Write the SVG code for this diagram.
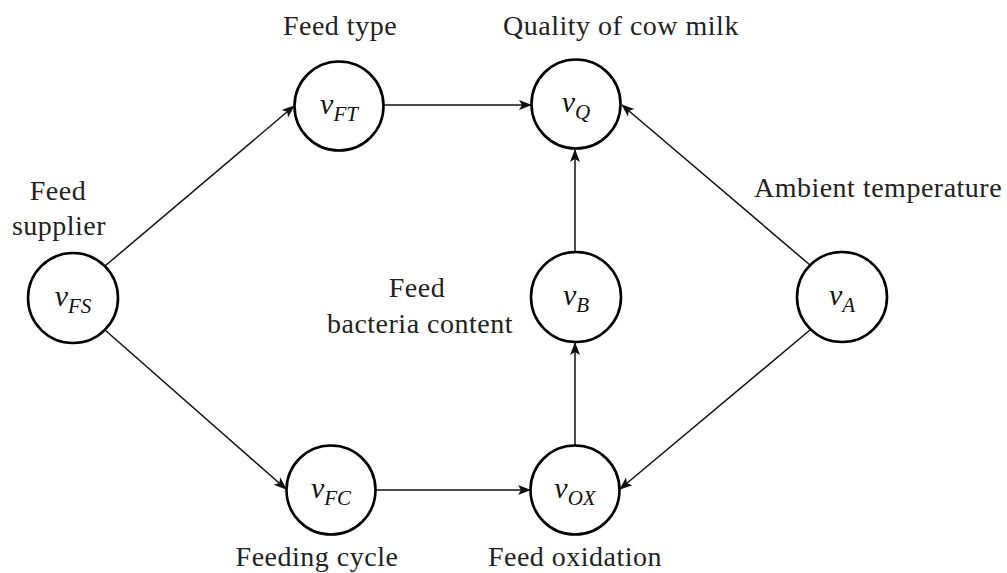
<svg xmlns="http://www.w3.org/2000/svg" width="1007" height="573" viewBox="0 0 1007 573">
<style>
.node circle{fill:#fff;stroke:#000;stroke-width:2.6}
.lbl{font-family:'Liberation Serif','Times New Roman',serif;font-size:28px;letter-spacing:0.5px;fill:#222}
.math{font-family:'Liberation Serif','Times New Roman',serif;font-style:italic;font-size:30px;fill:#111}
.sub{font-size:21px}
.edge{stroke:#111;stroke-width:1.5;fill:none;marker-end:url(#ah)}
</style>
<defs>
<marker id="ah" markerWidth="14" markerHeight="12" refX="12" refY="6" orient="auto" markerUnits="userSpaceOnUse">
<path d="M0,1 L13,6 L0,11 L3,6 Z" fill="#111"/>
</marker>
</defs>
<g id="connectors">
<line class="edge" x1="105" y1="266" x2="294" y2="106"/>
<line class="edge" x1="105" y1="330" x2="286" y2="489"/>
<line class="edge" x1="384" y1="105" x2="531" y2="105"/>
<line class="edge" x1="376" y1="490" x2="530" y2="490"/>
<line class="edge" x1="575" y1="445" x2="575" y2="343"/>
<line class="edge" x1="575" y1="252" x2="575" y2="150"/>
<line class="edge" x1="810" y1="265" x2="622" y2="105"/>
<line class="edge" x1="810" y1="330" x2="620" y2="489"/>
</g>
<g id="v_FS" class="node">
<circle cx="73" cy="298" r="45"/>
<text class="math" x="73" y="306" text-anchor="middle">v<tspan class="sub" dy="7">FS</tspan></text>
<text class="lbl" x="58" y="200" text-anchor="middle">Feed</text>
<text class="lbl" x="59" y="235" text-anchor="middle">supplier</text>
</g>
<g id="v_FT" class="node">
<circle cx="339" cy="106" r="44.5"/>
<text class="math" x="339" y="114" text-anchor="middle">v<tspan class="sub" dy="7">FT</tspan></text>
<text class="lbl" x="340" y="35" text-anchor="middle">Feed type</text>
</g>
<g id="v_Q" class="node">
<circle cx="576" cy="104" r="44.5"/>
<text class="math" x="576" y="112" text-anchor="middle">v<tspan class="sub" dy="7">Q</tspan></text>
<text class="lbl" x="621" y="35" text-anchor="middle">Quality of cow milk</text>
</g>
<g id="v_B" class="node">
<circle cx="576" cy="297" r="45"/>
<text class="math" x="576" y="305" text-anchor="middle">v<tspan class="sub" dy="7">B</tspan></text>
<text class="lbl" x="417" y="297" text-anchor="middle">Feed</text>
<text class="lbl" x="420" y="333" text-anchor="middle">bacteria content</text>
</g>
<g id="v_A" class="node">
<circle cx="842" cy="297" r="45"/>
<text class="math" x="842" y="305" text-anchor="middle">v<tspan class="sub" dy="7">A</tspan></text>
<text class="lbl" x="878" y="197" text-anchor="middle">Ambient temperature</text>
</g>
<g id="v_FC" class="node">
<circle cx="331" cy="490" r="44.5"/>
<text class="math" x="331" y="498" text-anchor="middle">v<tspan class="sub" dy="7">FC</tspan></text>
<text class="lbl" x="317" y="566" text-anchor="middle">Feeding cycle</text>
</g>
<g id="v_OX" class="node">
<circle cx="575" cy="490" r="44.5"/>
<text class="math" x="575" y="498" text-anchor="middle">v<tspan class="sub" dy="7">OX</tspan></text>
<text class="lbl" x="575" y="566" text-anchor="middle">Feed oxidation</text>
</g>
</svg>
